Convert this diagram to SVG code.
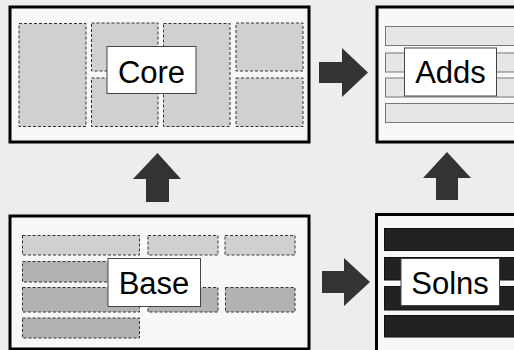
<svg xmlns="http://www.w3.org/2000/svg" width="514" height="350" viewBox="0 0 514 350">
  <style>
    .frame { fill: #f7f7f7; stroke: #000; stroke-width: 3; }
    .tile { fill: #d0d0d0; stroke: #333; stroke-width: 1; stroke-dasharray: 3 2; }
    .tile.dark { fill: #b2b2b2; }
    .bar { fill: #e6e6e6; stroke: #777; stroke-width: 1; }
    .solid { fill: #222; stroke: #111; stroke-width: 1; }
    .tag { fill: #fff; stroke: #444; stroke-width: 1; }
    .label { font-family: "Liberation Sans", Arial, sans-serif; font-size: 31px; fill: #000; text-anchor: middle; }
    .arrow { fill: #333; }
  </style>

  <rect x="0" y="0" width="514" height="350" fill="#ededed"/>

  <g id="core">
    <rect class="frame" x="10" y="7" width="299" height="135"/>
    <rect class="tile" x="19" y="23.5" width="67" height="103"/>
    <rect class="tile" x="91.5" y="23" width="66.5" height="48"/>
    <rect class="tile" x="91.5" y="78" width="66.5" height="48.5"/>
    <rect class="tile" x="163.5" y="23.5" width="66.5" height="103"/>
    <rect class="tile" x="236" y="23" width="67" height="48"/>
    <rect class="tile" x="236" y="78" width="67" height="48.5"/>
    <rect class="tag" x="107" y="46.5" width="89" height="47"/>
    <text class="label" x="151.5" y="82.5">Core</text>
  </g>

  <g id="adds">
    <rect class="frame" x="377" y="7" width="150" height="135"/>
    <rect class="bar" x="385.5" y="26.5" width="140" height="19"/>
    <rect class="bar" x="385.5" y="53" width="140" height="19"/>
    <rect class="bar" x="385.5" y="78" width="140" height="19"/>
    <rect class="bar" x="385.5" y="103.5" width="140" height="19"/>
    <rect class="tag" x="404.5" y="48" width="92" height="48"/>
    <text class="label" x="450.5" y="83">Adds</text>
  </g>

  <g id="base">
    <rect class="frame" x="10" y="216" width="299" height="133"/>
    <rect class="tile" x="22.5" y="235.5" width="117" height="19.5"/>
    <rect class="tile" x="148" y="235.5" width="70" height="19.5"/>
    <rect class="tile" x="225" y="235.5" width="70" height="19.5"/>
    <rect class="tile dark" x="22.5" y="261.5" width="117" height="20.5"/>
    <rect class="tile dark" x="22.5" y="287.5" width="117" height="24.5"/>
    <rect class="tile dark" x="148" y="287.5" width="70" height="24.5"/>
    <rect class="tile dark" x="225.5" y="287.5" width="69.5" height="24.5"/>
    <rect class="tile dark" x="22.5" y="318" width="117" height="20"/>
    <rect class="tag" x="108" y="258.5" width="92.5" height="48"/>
    <text class="label" x="154" y="294">Base</text>
  </g>

  <g id="solns">
    <rect class="frame" x="376.5" y="214.5" width="150" height="140"/>
    <rect class="solid" x="384.5" y="228.5" width="140" height="22"/>
    <rect class="solid" x="384.5" y="257.5" width="140" height="22.5"/>
    <rect class="solid" x="384.5" y="286.5" width="140" height="23.5"/>
    <rect class="solid" x="384.5" y="315.5" width="140" height="21.5"/>
    <rect class="tag" x="401" y="258.5" width="98.5" height="47"/>
    <text class="label" x="450" y="293.5">Solns</text>
  </g>

  <g id="connectors">
    <!-- Base to Core -->
    <polygon class="arrow" points="146,202 169,202 169,179 181,179 157.5,153 133,179 146,179"/>
    <!-- Solns to Adds -->
    <polygon class="arrow" points="436,200 458,200 458,178 471,178 447,152 423,178 436,178"/>
    <!-- Core to Adds -->
    <polygon class="arrow" points="319,62 342,62 342,48 368,72.5 342,97 342,83 319,83"/>
    <!-- Base to Solns -->
    <polygon class="arrow" points="322,271 344,271 344,258 370,282 344,306 344,293 322,293"/>
  </g>
</svg>
